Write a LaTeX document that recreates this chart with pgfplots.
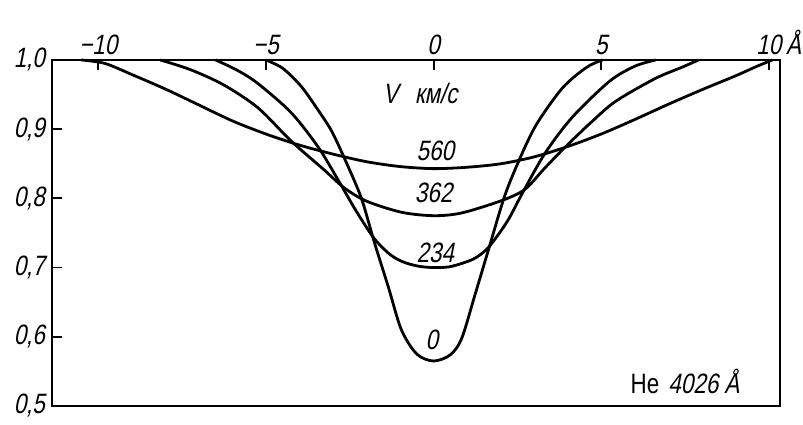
\documentclass[border=0pt]{standalone}
\usepackage{fontspec}
\usepackage{pgfplots}
\pgfplotsset{compat=1.18}
\newfontfamily\dfont[FakeStretch=0.8,FakeSlant=0.2]{Liberation Sans}
\newfontfamily\dfontup[FakeStretch=0.8]{Liberation Sans}
\newcommand{\fs}{\fontsize{14}{16}\selectfont}
\begin{document}
\begin{tikzpicture}
\begin{axis}[
  scale only axis,
  width=364pt, height=173pt,
  xmin=-11.38, xmax=10.33,
  ymin=0.5, ymax=1.0,
  axis line style={line width=1pt},
  xtick={-10,-5,0,5,10},
  xticklabels={−10,−5,0,5,10\rlap{\,Å}},
  ytick={0.5,0.6,0.7,0.8,0.9,1.0},
  yticklabels={{0,5},{0,6},{0,7},{0,8},{0,9},{1,0}},
  xtick pos=right, xticklabel pos=right,
  ytick pos=left,
  tick align=inside,
  major tick length=5pt,
  tick style={line width=0.9pt, black},
  ticklabel style={font=\dfont\fs},
  xticklabel style={yshift=-1pt},
  clip=false,
]
% curve 0
\addplot[black, line width=1.4pt, smooth, tension=0.5] coordinates {
(-5.0,1.000) (-4.5,0.988) (-3.95,0.962) (-3.45,0.928) (-3.05,0.898)
(-2.66,0.858) (-2.16,0.801) (-1.77,0.737) (-1.35,0.672) (-0.96,0.610)
(-0.5,0.575) (0,0.565) (0.5,0.574) (0.84,0.598) (1.23,0.660) (1.65,0.728)
(2.13,0.805) (2.63,0.864) (3.02,0.903) (3.44,0.934) (3.85,0.960)
(4.25,0.978) (4.65,0.992) (5.03,1.000)};
% curve 234
\addplot[black, line width=1.4pt, smooth, tension=0.5] coordinates {
(-6.5,1.000) (-5.85,0.985) (-5.24,0.966) (-4.25,0.924) (-3.44,0.874)
(-2.84,0.826) (-2.3,0.781) (-1.77,0.742) (-1.3,0.719) (-0.9,0.708)
(-0.45,0.702) (0,0.700) (0.45,0.701) (0.84,0.706) (1.25,0.714) (1.65,0.730)
(2.2,0.767) (2.63,0.806) (3.32,0.865) (4.13,0.917) (5.24,0.969)
(6.0,0.991) (6.62,1.000)};
% curve 362
\addplot[black, line width=1.4pt, smooth, tension=0.5] coordinates {
(-8.15,1.000) (-7.25,0.986) (-6.26,0.964) (-5.24,0.931) (-4.25,0.883)
(-3.26,0.841) (-2.66,0.815) (-2.0,0.796) (-0.96,0.780) (0,0.775)
(0.84,0.779) (2.04,0.797) (2.72,0.813) (3.3,0.843) (3.92,0.874) (4.7,0.910)
(5.42,0.940) (6.6,0.973) (7.43,0.990) (7.9,1.000)};
% curve 560
\addplot[black, line width=1.4pt, smooth, tension=0.5] coordinates {
(-10.5,1.000) (-9.8,0.995) (-9.0,0.979) (-8.0,0.958) (-7.0,0.935)
(-6.0,0.912) (-5.0,0.893) (-4.0,0.877) (-3.0,0.864) (-2.0,0.853)
(-1.0,0.846) (0,0.843) (1.0,0.845) (2.0,0.850) (3.0,0.860) (4.0,0.875)
(5.0,0.893) (6.0,0.914) (7.0,0.936) (8.0,0.957) (9.0,0.977)
(9.6,0.990) (10.1,1.000)};
\node[font=\dfont\fs] at (axis cs:-0.4,0.952) {V\hspace{0.6em}км/с};
\node[font=\dfont\fs] at (axis cs:0.05,0.868) {560};
\node[font=\dfont\fs] at (axis cs:0,0.808) {362};
\node[font=\dfont\fs] at (axis cs:0.05,0.722) {234};
\node[font=\dfont\fs] at (axis cs:-0.05,0.595) {0};
\node[anchor=east, font=\fs] at (axis cs:9.33,0.535) {{\dfontup He} {\dfont 4026 Å}};
\coordinate (BBsw) at ([xshift=-26pt,yshift=-9.5pt]rel axis cs:0,0);
\coordinate (BBne) at ([xshift=11.5pt,yshift=30pt]rel axis cs:1,1);
\end{axis}
\path (BBsw) rectangle (BBne);
\end{tikzpicture}
\end{document}
